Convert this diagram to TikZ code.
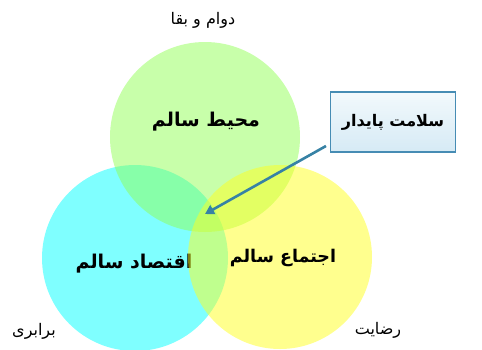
\documentclass[tikz,border=0pt]{standalone}
\usepackage{fontspec}
\setmainfont{DejaVu Sans}
\newfontfamily\arabicfont[Script=Arabic]{DejaVu Sans}
\TeXXeTstate=1
\usetikzlibrary{arrows.meta}
\definecolor{cgreen}{RGB}{145,255,85}
\definecolor{ccyan}{RGB}{0,255,255}
\definecolor{cyel}{RGB}{255,255,30}
\definecolor{boxline}{RGB}{70,140,180}
\definecolor{boxtop}{RGB}{242,249,252}
\definecolor{boxbot}{RGB}{214,234,245}
\definecolor{arrc}{RGB}{55,130,165}
\begin{document}
\begin{tikzpicture}[x=1pt,y=-1pt,
  circ/.style={fill opacity=0.5, draw=none},
  big/.style={font=\arabicfont\bfseries\fontsize{19}{22}\selectfont, inner sep=0pt},
  small/.style={font=\arabicfont\fontsize{16}{18}\selectfont, inner sep=0pt},
  callout/.style={draw=boxline, line width=1.6pt, top color=boxtop, bottom color=boxbot, minimum width=125pt, minimum height=60pt, font=\arabicfont\bfseries\fontsize{16}{19}\selectfont},
  arr/.style={draw=arrc, line width=2.6pt, -{Triangle[length=9pt,width=10pt]}}]
\useasboundingbox (0,0) rectangle (482,349);
\fill[circ, ccyan] (135,258) circle (93);
\fill[circ, cgreen] (205,137) circle (95);
\node[big] (econ) at (134,264) {\beginR اقتصاد سالم\endR};
\fill[circ, cyel] (280,257) circle (92);
\node[big] (env) at (206,122) {\beginR محیط سالم\endR};
\node[big, font=\arabicfont\bfseries\fontsize{17.5}{21}\selectfont] (soc) at (283,258) {\beginR اجتماع سالم\endR};
\node[small] (t1) at (203,20) {\beginR دوام و بقا\endR};
\node[small] (t2) at (34,331) {\beginR برابری\endR};
\node[small] (t3) at (378,330) {\beginR رضایت\endR};
\node[callout] (box) at (393,122) {\beginR سلامت پایدار\endR};
\coordinate (s) at (326,146);
\coordinate (tip) at (205,214);
\draw[arr] (s) -- (tip);
\end{tikzpicture}
\end{document}
